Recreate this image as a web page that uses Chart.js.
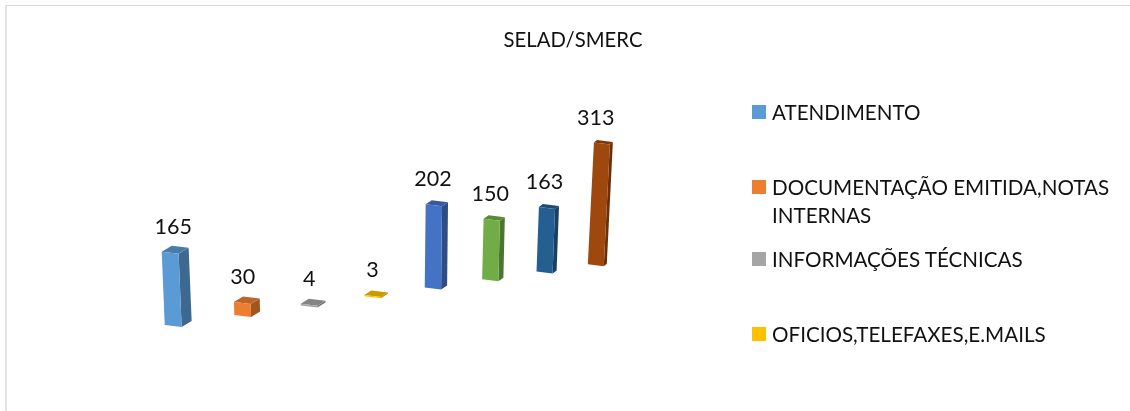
<!DOCTYPE html>
<html lang="pt">
<head>
<meta charset="utf-8">
<script src="https://cdn.jsdelivr.net/npm/chart.js@4"></script>
<style>
html,body{margin:0;padding:0;width:1130px;height:411px;overflow:hidden;background:#fff}
#frame{position:absolute;left:5px;top:5px;width:1125px;height:406px;border-top:1px solid #d9d9d9;border-left:2px solid #e4e4e4;box-sizing:border-box}
#c{position:absolute;left:8px;top:0;width:1130px;height:411px}
.lg{position:absolute;left:752px;font:20.6px/28px Lato,sans-serif;color:#111}
.lg i{position:absolute;left:0;top:7px;width:14px;height:14px}
.lg span{display:block;margin-left:20px;width:350px}
</style>
</head>
<body>
<div id="frame"></div>
<canvas id="c" width="1130" height="411"></canvas>
<div id="legend"></div>
<script>
const categories = ["ATENDIMENTO","DOCUMENTAÇÃO EMITIDA,NOTAS INTERNAS","INFORMAÇÕES TÉCNICAS","OFICIOS,TELEFAXES,E.MAILS","Série 5","Série 6","Série 7","Série 8"];
const values = [165,30,4,3,202,150,163,313];
const colors = ["#5B9BD5","#ED7D31","#A5A5A5","#FFC000","#4472C4","#70AD47","#255E91","#9E480E"];
const legendTops = [98,173,245,320];
const legendCount = 4;
const titleText = "SELAD/SMERC";

function shade(hex,f){
  const n=parseInt(hex.slice(1),16);
  return `rgb(${(n>>16)*f|0},${((n>>8)&255)*f|0},${(n&255)*f|0})`;
}
// Perspective model of the tilted 3-D column chart: turns a bar's scale position into projected corners
function project(bar,i,x0){
  const X = bar.x + 1.52*i*(7-i);
  const lift = 0.144*(X-x0);
  const h = (bar.base-bar.y)*(1-0.018*i);
  const w = bar.width*(1-0.008*i);
  const lean = (-0.041+0.013*i)*h;
  const by = bar.base-lift;
  return {X,by,h,w,lean,dx:10-i,dy:6-0.5*i};
}
function poly(ctx,pts,fill){
  ctx.beginPath();
  pts.forEach((p,k)=>k?ctx.lineTo(p[0],p[1]):ctx.moveTo(p[0],p[1]));
  ctx.closePath();ctx.fillStyle=fill;ctx.fill();
}
class Bar3DElement extends Chart.BarElement{
  static id='bar3d';
  static defaults={...Chart.BarElement.defaults};
  static defaultRoutes=Chart.BarElement.defaultRoutes;
  draw(ctx){
    const i=this.$context.dataIndex;
    const x0=this.$context.chart.scales.x.getPixelForValue(0);
    const p=project(this,i,x0);
    const c=this.options.backgroundColor;
    const L=p.X-p.w/2,R=p.X+p.w/2;
    const bl=[L,p.by-1],br=[R,p.by+1];
    const tl=[L+p.lean,p.by-p.h-1],tr=[R+p.lean,p.by-p.h+1];
    const off=q=>[q[0]+p.dx,q[1]-p.dy];
    poly(ctx,[br,off(br),off(tr),tr],shade(c,0.68));
    poly(ctx,[tl,off(tl),off(tr),tr],shade(c,0.8));
    poly(ctx,[bl,br,tr,tl],c);
  }
}
class Bar3DController extends Chart.BarController{
  static id='bar3d';
  static defaults={...Chart.BarController.defaults,dataElementType:'bar3d'};
}
Chart.register(Bar3DElement,Bar3DController);

const valueLabels={
  id:'valueLabels',
  afterDatasetsDraw(chart){
    const ctx=chart.ctx,meta=chart.getDatasetMeta(0),x0=chart.scales.x.getPixelForValue(0);
    ctx.save();
    ctx.font='21.5px Lato, sans-serif';ctx.fillStyle='#111';ctx.textAlign='center';ctx.textBaseline='middle';
    meta.data.forEach((bar,i)=>{
      const p=project(bar,i,x0);
      ctx.fillText(String(values[i]),p.X,p.by-p.h-26);
    });
    ctx.restore();
  }
};
const quiet={display:true,grid:{display:false},border:{display:false},ticks:{display:false}};

new Chart(document.getElementById('c'),{
  type:'bar3d',
  data:{labels:categories,datasets:[{data:values,backgroundColor:colors,clip:false,yAxisID:'y',
    categoryPercentage:1,barPercentage:0.28}]},
  plugins:[valueLabels],
  options:{
    responsive:false,animation:false,
    layout:{padding:0},
    plugins:{
      legend:{display:false},tooltip:{enabled:false},
      title:{display:true,text:titleText,color:'#111',
        font:{family:'Lato, sans-serif',size:20.3,weight:'normal'},padding:{top:28,bottom:7}}
    },
    scales:{
      x:{...quiet,type:'category',afterFit(s){s.height=85;}},
      y:{...quiet,type:'linear',position:'left',min:0,max:600,afterFit(s){s.width=135;}},
      yRight:{...quiet,type:'linear',position:'right',min:0,max:600,afterFit(s){s.width=512;}}
    }
  }
});

const lg=document.getElementById('legend');
categories.slice(0,legendCount).forEach((t,k)=>{
  const d=document.createElement('div');
  d.className='lg';d.style.top=legendTops[k]+'px';
  const b=document.createElement('i');b.style.background=colors[k];
  const s=document.createElement('span');s.textContent=t;
  d.append(b,s);lg.append(d);
});
</script>
</body>
</html>
